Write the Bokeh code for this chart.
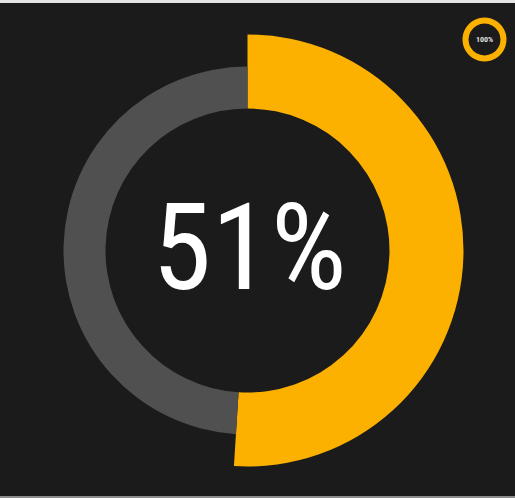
import math
from bokeh.plotting import figure
from bokeh.models import Range1d, ColumnDataSource, Spacer, GlobalInlineStyleSheet
from bokeh.layouts import column
from bokeh.core.properties import value
from bokeh.embed import file_html
from bokeh.resources import INLINE

# ---- data ----
segments = ["filled", "remaining"]
shares = [51, 49]
seg_colors = ["#FCB100", "#505050"]
center_label = ["51%"]
icon_share = [100]
icon_label = ["100%"]

W = 515
PH = 493          # plot height (page rows 3..496)
BG = "#1B1B1B"
p = figure(width=W, height=PH, output_backend="svg", toolbar_location=None,
           x_range=Range1d(0, W), y_range=Range1d(0, PH), min_border=0,
           styles={"background-color": BG})
p.axis.visible = False
p.grid.visible = False
p.outline_line_color = None
p.background_fill_color = BG
p.border_fill_color = BG

def Y(py):  # page row -> data y
    return PH + 3 - py

cx, cy = 247, Y(250)
r_in, r_gray, r_orange = 142, 184, 216

total = sum(shares)
starts, ends = [], []
acc = 0.0
for s in shares:
    starts.append(math.pi / 2 - 2 * math.pi * acc / total)
    acc += s
    ends.append(math.pi / 2 - 2 * math.pi * acc / total)

src = ColumnDataSource(dict(seg=segments, start=starts, end=ends,
                            color=seg_colors, outer=[r_orange, r_gray],
                            x=[cx] * 2, y=[cy] * 2, inner=[r_in] * 2))
p.annular_wedge(x="x", y="y", inner_radius="inner", outer_radius="outer",
                start_angle="start", end_angle="end", direction="clock",
                fill_color="color", line_color=None, source=src)

S = 120
p.text(x=[249], y=[Y(247)], text=center_label, text_color="white",
       text_font=value("Roboto Condensed"),
       text_font_size=f"{S}px", text_align="center", text_baseline="alphabetic")

# icon
icx, icy = 484, Y(39)
frac = icon_share[0] / 100
p.annular_wedge(x=[icx], y=[icy], inner_radius=16, outer_radius=22,
                start_angle=math.pi / 2, end_angle=math.pi / 2 - 2 * math.pi * frac + 1e-6,
                direction="clock", fill_color="#FCB100", line_color=None)
p.text(x=[icx], y=[icy], text=icon_label, text_color="#E0E0E0",
       text_font=value("Roboto Condensed"), text_font_style="bold",
       text_font_size="8px", text_align="center", text_baseline="middle")

top = Spacer(width=W, height=3, styles={"background-color": "#E4E4E4"})
bottom = Spacer(width=W, height=2, styles={"background-color": "#8C8C8C"})
layout = column(top, p, bottom, spacing=0, styles={"background-color": BG},
                stylesheets=[GlobalInlineStyleSheet(css="html, body { background: #1B1B1B; margin: 0; }")])
open("out.html", "w").write(file_html(layout, INLINE))
